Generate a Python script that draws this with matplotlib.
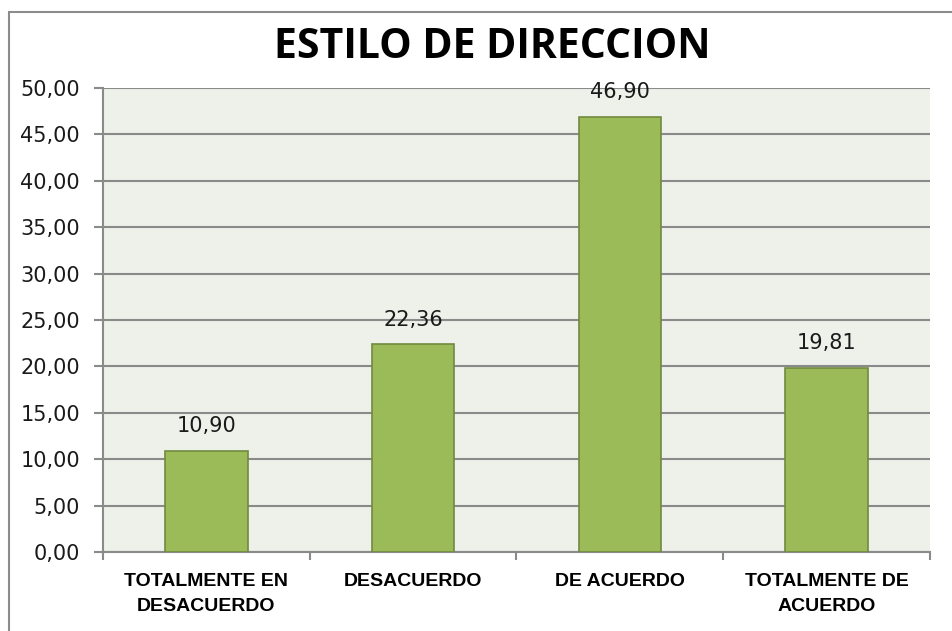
import matplotlib.pyplot as plt
from matplotlib.patches import Rectangle

# Data
categories = ['TOTALMENTE EN\nDESACUERDO', 'DESACUERDO', 'DE ACUERDO', 'TOTALMENTE DE\nACUERDO']
values = [10.90, 22.36, 46.90, 19.81]
yticks = [0, 5, 10, 15, 20, 25, 30, 35, 40, 45, 50]

fig = plt.figure(figsize=(9.53, 6.31), dpi=100)
ax = fig.add_axes([103 / 953, 1 - 552 / 631, (930 - 103) / 953, (552 - 88) / 631])

# outer chart border (left and top only visible)
fig.add_artist(Rectangle((9 / 953, -0.1), 1.2, (631 - 12) / 631 + 0.1,
                         transform=fig.transFigure, fill=False,
                         edgecolor='#8c8c8c', linewidth=1.5))

ax.set_facecolor('#eef1e9')
x = range(len(categories))
ax.bar(x, values, width=0.4, color='#9bbb59', edgecolor='#71893f', linewidth=1.2, zorder=3)

for xi, v in zip(x, values):
    ax.text(xi, v + 1.6, f'{v:.2f}'.replace('.', ','), ha='center', va='bottom',
            fontsize=15, family='DejaVu Sans', color='#1a1a1a', zorder=4)

ax.set_xlim(-0.5, len(categories) - 0.5)
ax.set_ylim(0, 50)
ax.set_yticks(yticks)
ax.set_yticklabels([f'{t:.2f}'.replace('.', ',') for t in yticks],
                   fontsize=15, family='DejaVu Sans', color='#1a1a1a')
ax.yaxis.grid(True, color='#8a8a8a', linewidth=1.5, zorder=1)
ax.set_axisbelow(True)

ax.set_xticks(list(x))
ax.set_xticklabels(categories, fontsize=14, fontweight='bold', family='Liberation Sans',
                   linespacing=1.6)
ax.set_xticks([i - 0.5 for i in range(len(categories) + 1)], minor=True)
ax.tick_params(axis='x', which='major', length=0, pad=15)
ax.tick_params(axis='x', which='minor', length=6, width=1.5, color='#8a8a8a')
ax.tick_params(axis='y', length=6.5, width=1.5, color='#8a8a8a', pad=10)

for side in ['top', 'right']:
    ax.spines[side].set_visible(False)
for side in ['left', 'bottom']:
    ax.spines[side].set_color('#8a8a8a')
    ax.spines[side].set_linewidth(1.5)

fig.text(492 / 953, 1 - 47 / 631, 'ESTILO DE DIRECCION', ha='center', va='center',
         fontsize=29.5, fontweight='bold', family='Open Sans', color='#000000')

fig.savefig('out.png', dpi=100)
